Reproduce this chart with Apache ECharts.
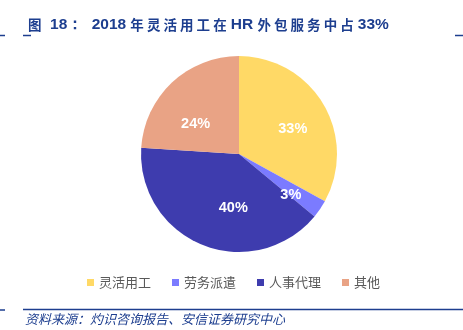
<!DOCTYPE html>
<html><head><meta charset="utf-8">
<script src="https://cdn.jsdelivr.net/npm/echarts@6/dist/echarts.min.js"></script>
<style>html,body{margin:0;padding:0;background:#fff}#c{width:463px;height:330px}</style>
</head><body><div id="c"></div>
<script>
const categories = ['灵活用工', '劳务派遣', '人事代理', '其他'];
const shares = [33, 3, 40, 24];
const colors = ['#FFD966', '#7B7BFF', '#3E3CAE', '#E9A385'];
const labelOffsets = [[3, 5], [3, 8], [16, -1], [-3, 13]];
const titleText = '{c|图}{l|  18：}  {l|2018} {c|年 灵 活 用 工 在} {l|HR} {c|外 包 服 务 中 占} {l|33%}';
const sourceText = '资料来源：灼识咨询报告、安信证券研究中心';

const chart = echarts.init(document.getElementById('c'), null, {renderer: 'canvas'});
const navy = '#1D3E8F';
const latin = 'Liberation Sans, Arial, sans-serif';
const cjk = 'Noto Sans CJK SC, sans-serif';
const baseData = categories.map((n, i) => ({name: n, value: shares[i], itemStyle: {color: colors[i]}}));
const labelData = categories.map((n, i) => ({name: n, value: shares[i], label: {offset: labelOffsets[i]}}));
chart.setOption({
  animation: false,
  title: {
    text: titleText, left: 23, top: 12,
    textStyle: {
      color: navy, fontSize: 15, fontWeight: 'bold', fontFamily: latin,
      rich: {
        c: {color: navy, fontSize: 13.5, fontWeight: 'bold', fontFamily: cjk},
        l: {color: navy, fontSize: 15.5, fontWeight: 'bold', fontFamily: latin}
      }
    }
  },
  legend: {
    data: categories, bottom: 36, left: 82, itemWidth: 7, itemHeight: 7, itemGap: 21, icon: 'rect',
    textStyle: {color: '#595959', fontSize: 13, fontFamily: cjk}
  },
  graphic: [
    {type: 'line', shape: {x1: 0, y1: 35.5, x2: 5, y2: 35.5}, style: {stroke: navy, lineWidth: 1.5}},
    {type: 'line', shape: {x1: 23, y1: 35.5, x2: 31, y2: 35.5}, style: {stroke: navy, lineWidth: 1.5}},
    {type: 'line', shape: {x1: 455, y1: 35.5, x2: 463, y2: 35.5}, style: {stroke: navy, lineWidth: 1.5}},
    {type: 'line', shape: {x1: 0, y1: 310, x2: 5, y2: 310}, style: {stroke: navy, lineWidth: 1.5}},
    {type: 'line', shape: {x1: 23, y1: 309.5, x2: 463, y2: 309.5}, style: {stroke: navy, lineWidth: 1.5}},
    {type: 'text', left: 25, top: 313, style: {text: sourceText, fill: navy, font: 'italic 13px "Noto Sans CJK SC", sans-serif'}}
  ],
  series: [
    {
      type: 'pie', center: [239, 154], radius: [0, 98], startAngle: 90, clockwise: true,
      label: {show: false}, labelLine: {show: false}, silent: true,
      data: baseData
    },
    {
      type: 'pie', center: [239, 154], radius: [14, 98], startAngle: 90, clockwise: true,
      itemStyle: {color: 'rgba(0,0,0,0)'}, silent: true, legendHoverLink: false,
      label: {show: true, position: 'inside', formatter: '{c}%', color: '#fff', fontSize: 14.5, fontWeight: 'bold', fontFamily: latin},
      labelLine: {show: false},
      data: labelData
    }
  ]
});
</script></body></html>
